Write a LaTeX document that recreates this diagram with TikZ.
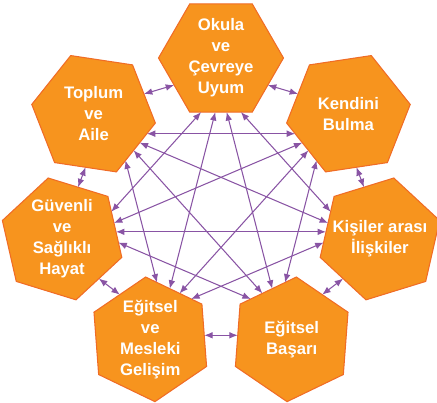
\documentclass[tikz,border=0pt]{standalone}
\usepackage{fontspec}
\setmainfont{Liberation Sans}
\usetikzlibrary{calc,arrows.meta,shapes.geometric}
\definecolor{hexfill}{RGB}{247,148,30}
\definecolor{hexline}{RGB}{240,108,38}
\definecolor{linkcol}{RGB}{137,84,164}
\def\longlink(#1)(#2){\draw[link] (intersection of q#1--q#2 and m#1--n#1) -- (intersection of q#1--q#2 and m#2--n#2);}

\begin{document}
\begin{tikzpicture}[x=0.02cm, y=0.02cm,
		hexa/.style={regular polygon, regular polygon sides=6, minimum size=2.5cm, inner sep=0pt, outer sep=0pt, fill=hexfill, draw=hexline, line width=0.6pt},
		hexlabel/.style={text=white, font=\fontsize{9.5}{12}\selectfont\bfseries, align=center},
		link/.style={draw=linkcol, line width=0.6pt, {Latex[length=4.8pt,width=3.8pt]}-{Latex[length=4.8pt,width=3.8pt]}}]
		%%%%% START %%%%%
		
		\useasboundingbox (-221, -197) rectangle (216, 206);
		
		% seven hexagons on a flattened circle
		\node[hexa, shape border rotate=0] (okula) at (90:163 and 148) {};
		\node[hexa, shape border rotate=-51.429] (kendini) at (38.571:163 and 148) {};
		\node[hexa, shape border rotate=-102.857] (iliski) at (-12.857:163 and 148) {};
		\node[hexa, shape border rotate=-154.286] (basari) at (-64.286:163 and 148) {};
		\node[hexa, shape border rotate=-205.714] (gelisim) at (-115.714:163 and 148) {};
		\node[hexa, shape border rotate=-257.143] (saglik) at (-167.143:163 and 148) {};
		\node[hexa, shape border rotate=-308.571] (aile) at (141.429:163 and 148) {};
		
		\node[hexlabel] (tokula) at (okula) {Okula\\ve\\Çevreye\\Uyum};
		\node[hexlabel] (tkendini) at (kendini) {Kendini\\Bulma};
		\node[hexlabel] (tiliski) at (iliski) {Kişiler arası\\İlişkiler};
		\node[hexlabel] (tbasari) at (basari) {Eğitsel\\Başarı};
		\node[hexlabel] (tgelisim) at (gelisim) {Eğitsel\\ve\\Mesleki\\Gelişim};
		\node[hexlabel] (tsaglik) at (saglik) {Güvenli\\ve\\Sağlıklı\\Hayat};
		\node[hexlabel] (taile) at (aile) {Toplum\\ve\\Aile};
		
		% inner edge, neighbour edges
		\foreach \hex/\ang in {okula/90, kendini/38.571, iliski/-12.857, basari/-64.286, gelisim/-115.714, saglik/-167.143, aile/141.429} {
			\coordinate (q\hex) at ($(\hex)+({\ang+180}:32)$);
			\coordinate (m\hex) at ($(\hex)+({\ang+180}:54.1)$);
			\coordinate (n\hex) at ($(m\hex)+({\ang+270}:20)$);
			\coordinate (nx\hex) at ($(\hex)+({\ang+240}:54.1)$);
			\coordinate (pv\hex) at ($(\hex)+({\ang+120}:54.1)$);
		}
		
		\draw[link] (nxokula) -- (pvkendini);
		\draw[link] (nxkendini) -- (pviliski);
		\draw[link] (nxiliski) -- (pvbasari);
		\draw[link] (nxbasari) -- (pvgelisim);
		\draw[link] (nxgelisim) -- (pvsaglik);
		\draw[link] (nxsaglik) -- (pvaile);
		\draw[link] (nxaile) -- (pvokula);
		
		\longlink(okula)(iliski)
		\longlink(okula)(basari)
		\longlink(okula)(gelisim)
		\longlink(okula)(saglik)
		\longlink(kendini)(basari)
		\longlink(kendini)(gelisim)
		\longlink(kendini)(saglik)
		\longlink(kendini)(aile)
		\longlink(iliski)(gelisim)
		\longlink(iliski)(saglik)
		\longlink(iliski)(aile)
		\longlink(basari)(saglik)
		\longlink(basari)(aile)
		\longlink(gelisim)(aile)
		
		%%%%% END %%%%%
	\end{tikzpicture}
\end{document}
